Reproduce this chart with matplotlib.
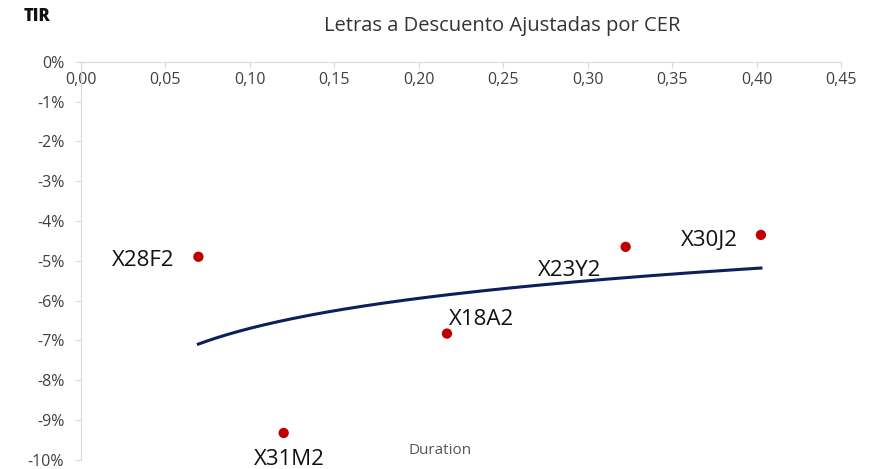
import matplotlib
matplotlib.use('Agg')
import matplotlib.pyplot as plt
import numpy as np
from matplotlib.ticker import FuncFormatter, MultipleLocator

plt.rcParams['font.family'] = ['Open Sans', 'DejaVu Sans']

# data
tickers = ["X28F2", "X31M2", "X18A2", "X23Y2", "X30J2"]
duration = [0.0695, 0.120, 0.2167, 0.3225, 0.4026]
tir = [-4.90, -9.33, -6.83, -4.65, -4.35]
# label offsets (points) relative to each marker
label_offsets = [(-40, -3), (4, -19), (25, 10), (-40, -17), (-37, -4)]

# logarithmic trendline fitted on the points
b, a = np.polyfit(np.log(duration), tir, 1)
xs = np.linspace(min(duration), max(duration), 200)
ys = a + b * np.log(xs)

fig = plt.figure(figsize=(8.76, 4.69), dpi=100)
ax = fig.add_axes([0.0925, 0.02, 0.8675, 0.848])

ax.plot(xs, ys, color='#0B1F5C', lw=2.2, zorder=2)
ax.scatter(duration, tir, s=55, color='#C00000', edgecolors='none', zorder=3)

for name, x, y, off in zip(tickers, duration, tir, label_offsets):
    ax.annotate(name, (x, y), xytext=off, textcoords='offset points',
                ha='center', va='center', fontsize=16, color='#111111')

ax.set_xlim(0, 0.45)
ax.set_ylim(-10, 0)
ax.xaxis.set_major_locator(MultipleLocator(0.05))
ax.yaxis.set_major_locator(MultipleLocator(1))
ax.xaxis.set_major_formatter(FuncFormatter(lambda v, p: f"{v:.2f}".replace('.', ',')))
ax.yaxis.set_major_formatter(FuncFormatter(lambda v, p: f"{v:.0f}%".replace('-0%', '0%')))

for side in ['top', 'right']:
    ax.spines[side].set_visible(False)
ax.spines['bottom'].set_position(('data', 0))
ax.spines['bottom'].set_color('#D9D9D9')
ax.spines['left'].set_color('#D9D9D9')
ax.tick_params(axis='both', colors='#D9D9D9', labelcolor='#404040',
               labelsize=11.5, length=4, width=0.8)
ax.tick_params(axis='x', pad=3)
ax.tick_params(axis='y', pad=8)

fig.text(0.573, 0.945, "Letras a Descuento Ajustadas por CER", ha='center', va='center',
         fontsize=14.5, color='#333333')
fig.text(0.027, 0.965, "TIR", ha='left', va='center', fontsize=12,
         fontweight='heavy', color='#111111')
ax.text(0.2125, -9.78, "Duration", ha='center', va='center', fontsize=11, color='#555555')

plt.savefig('out.png', dpi=100, facecolor='white')
